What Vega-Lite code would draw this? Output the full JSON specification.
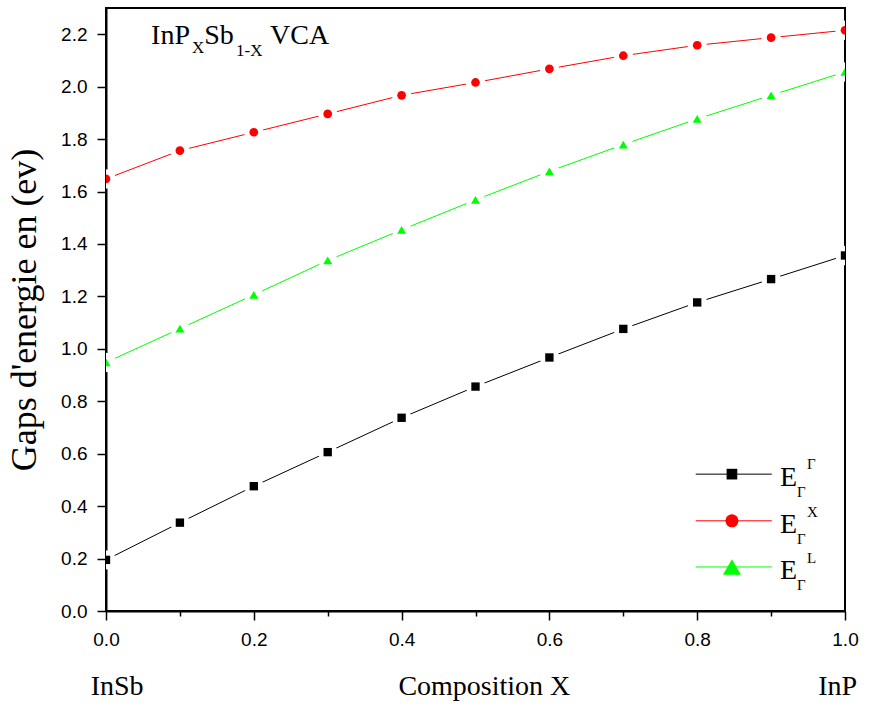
{
  "$schema": "https://vega.github.io/schema/vega-lite/v6.json",
  "width": 739,
  "height": 603,
  "autosize": {"type": "none"},
  "padding": {"left": 106, "top": 8, "right": 24, "bottom": 95},
  "background": "white",
  "config": {
    "view": {"stroke": "black", "strokeWidth": 2},
    "axis": {
      "grid": false,
      "domainColor": "black",
      "domainWidth": 2,
      "tickColor": "black",
      "tickWidth": 1.5,
      "labelColor": "black",
      "labelFont": "Liberation Sans",
      "labelFontSize": 19,
      "labelOverlap": false,
      "labelFlush": false,
      "titleColor": "black",
      "titleFont": "Liberation Serif",
      "titleFontWeight": "normal",
      "zindex": 1
    }
  },
  "datasets": {
    "gaps": [
      {"x": 0.0, "s": "Γ", "y": 0.195}, {"x": 0.1, "s": "Γ", "y": 0.337}, {"x": 0.2, "s": "Γ", "y": 0.476},
      {"x": 0.3, "s": "Γ", "y": 0.606}, {"x": 0.4, "s": "Γ", "y": 0.737}, {"x": 0.5, "s": "Γ", "y": 0.856},
      {"x": 0.6, "s": "Γ", "y": 0.967}, {"x": 0.7, "s": "Γ", "y": 1.076}, {"x": 0.8, "s": "Γ", "y": 1.177},
      {"x": 0.9, "s": "Γ", "y": 1.266}, {"x": 1.0, "s": "Γ", "y": 1.356},
      {"x": 0.0, "s": "X", "y": 1.648}, {"x": 0.1, "s": "X", "y": 1.756}, {"x": 0.2, "s": "X", "y": 1.826},
      {"x": 0.3, "s": "X", "y": 1.896}, {"x": 0.4, "s": "X", "y": 1.967}, {"x": 0.5, "s": "X", "y": 2.016},
      {"x": 0.6, "s": "X", "y": 2.068}, {"x": 0.7, "s": "X", "y": 2.118}, {"x": 0.8, "s": "X", "y": 2.158},
      {"x": 0.9, "s": "X", "y": 2.187}, {"x": 1.0, "s": "X", "y": 2.215},
      {"x": 0.0, "s": "L", "y": 0.948}, {"x": 0.1, "s": "L", "y": 1.077}, {"x": 0.2, "s": "L", "y": 1.206},
      {"x": 0.3, "s": "L", "y": 1.337}, {"x": 0.4, "s": "L", "y": 1.454}, {"x": 0.5, "s": "L", "y": 1.568},
      {"x": 0.6, "s": "L", "y": 1.677}, {"x": 0.7, "s": "L", "y": 1.779}, {"x": 0.8, "s": "L", "y": 1.877},
      {"x": 0.9, "s": "L", "y": 1.967}, {"x": 1.0, "s": "L", "y": 2.056}
    ],
    "one": [{"k": 1}]
  },
  "layer": [
    {
      "data": {"name": "gaps"},
      "transform": [{"filter": "datum.s == 'Γ'"}],
      "mark": {"type": "line", "strokeWidth": 1, "color": "#000000"},
      "encoding": {
        "x": {
          "field": "x", "type": "quantitative",
          "scale": {"domain": [0, 1], "nice": false, "zero": false},
          "axis": {
            "title": null,
            "values": [0, 0.1, 0.2, 0.3, 0.4, 0.5, 0.6, 0.7, 0.8, 0.9, 1.0],
            "labelExpr": "round(datum.value*10) % 2 == 0 ? format(datum.value, '.1f') : ''",
            "tickSize": {"condition": {"test": "round(datum.value*10) % 2 == 0", "value": 9}, "value": 5},
            "labelPadding": 10
          }
        },
        "y": {
          "field": "y", "type": "quantitative",
          "scale": {"domain": [0, 2.3], "nice": false, "zero": false},
          "axis": {
            "title": "Gaps d'energie en (ev)",
            "titleFontSize": 36,
            "titlePadding": 17,
            "values": [0, 0.1, 0.2, 0.3, 0.4, 0.5, 0.6, 0.7, 0.8, 0.9, 1.0, 1.1, 1.2, 1.3, 1.4, 1.5, 1.6, 1.7, 1.8, 1.9, 2.0, 2.1, 2.2],
            "labelExpr": "round(datum.value*10) % 2 == 0 ? format(datum.value, '.1f') : ''",
            "tickSize": {"condition": {"test": "round(datum.value*10) % 2 == 0", "value": 9}, "value": 5},
            "labelPadding": 10
          }
        }
      }
    },
    {
      "data": {"name": "gaps"},
      "transform": [{"filter": "datum.s == 'X'"}],
      "mark": {"type": "line", "strokeWidth": 1, "color": "#ff0000"},
      "encoding": {"x": {"field": "x", "type": "quantitative"}, "y": {"field": "y", "type": "quantitative"}}
    },
    {
      "data": {"name": "gaps"},
      "transform": [{"filter": "datum.s == 'L'"}],
      "mark": {"type": "line", "strokeWidth": 1, "color": "#00ff00"},
      "encoding": {"x": {"field": "x", "type": "quantitative"}, "y": {"field": "y", "type": "quantitative"}}
    },
    {
      "data": {"name": "gaps"},
      "mark": {"type": "point", "shape": "circle", "filled": true, "opacity": 1, "color": "#ffffff", "size": 380, "clip": true},
      "encoding": {
        "x": {"field": "x", "type": "quantitative"},
        "y": {"field": "y", "type": "quantitative"}
      }
    },
    {
      "data": {"name": "gaps"},
      "mark": {"type": "point", "filled": true, "opacity": 1, "clip": true},
      "encoding": {
        "x": {"field": "x", "type": "quantitative"},
        "y": {"field": "y", "type": "quantitative"},
        "color": {"field": "s", "type": "nominal", "scale": {"domain": ["Γ", "X", "L"], "range": ["#000000", "#ff0000", "#00ff00"]}, "legend": null},
        "shape": {"field": "s", "type": "nominal", "scale": {"domain": ["Γ", "X", "L"], "range": ["square", "circle", "triangle-up"]}, "legend": null},
        "size": {"field": "s", "type": "nominal", "scale": {"domain": ["Γ", "X", "L"], "range": [70, 81, 230]}, "legend": null}
      }
    },
    {"data": {"name": "one"}, "mark": {"type": "text", "text": "InP", "font": "Liberation Serif", "fontSize": 28, "color": "black", "align": "left", "baseline": "alphabetic"}, "encoding": {"x": {"datum": 0.061}, "y": {"datum": 2.164}}},
    {"data": {"name": "one"}, "mark": {"type": "text", "text": "X", "font": "Liberation Serif", "fontSize": 17, "color": "black", "align": "left", "baseline": "alphabetic", "dy": 9}, "encoding": {"x": {"datum": 0.1165}, "y": {"datum": 2.164}}},
    {"data": {"name": "one"}, "mark": {"type": "text", "text": "Sb", "font": "Liberation Serif", "fontSize": 28, "color": "black", "align": "left", "baseline": "alphabetic"}, "encoding": {"x": {"datum": 0.133}, "y": {"datum": 2.164}}},
    {"data": {"name": "one"}, "mark": {"type": "text", "text": "1-X", "font": "Liberation Serif", "fontSize": 17, "color": "black", "align": "left", "baseline": "alphabetic", "dy": 12}, "encoding": {"x": {"datum": 0.176}, "y": {"datum": 2.164}}},
    {"data": {"name": "one"}, "mark": {"type": "text", "text": "VCA", "font": "Liberation Serif", "fontSize": 28, "color": "black", "align": "left", "baseline": "alphabetic"}, "encoding": {"x": {"datum": 0.222}, "y": {"datum": 2.164}}},
    {"data": {"name": "one"}, "mark": {"type": "text", "text": "InSb", "font": "Liberation Serif", "fontSize": 28, "color": "black", "align": "center", "baseline": "alphabetic"}, "encoding": {"x": {"datum": 0.015}, "y": {"datum": -0.32}}},
    {"data": {"name": "one"}, "mark": {"type": "text", "text": "Composition X", "font": "Liberation Serif", "fontSize": 28, "color": "black", "align": "center", "baseline": "alphabetic"}, "encoding": {"x": {"datum": 0.512}, "y": {"datum": -0.32}}},
    {"data": {"name": "one"}, "mark": {"type": "text", "text": "InP", "font": "Liberation Serif", "fontSize": 28, "color": "black", "align": "center", "baseline": "alphabetic"}, "encoding": {"x": {"datum": 0.99}, "y": {"datum": -0.32}}},

    {"data": {"name": "one"}, "mark": {"type": "rule", "color": "#000000", "strokeWidth": 1}, "encoding": {"x": {"datum": 0.798}, "x2": {"datum": 0.901}, "y": {"datum": 0.522}}},
    {"data": {"name": "one"}, "mark": {"type": "point", "filled": true, "opacity": 1, "shape": "square", "size": 114, "color": "#000000"}, "encoding": {"x": {"datum": 0.847}, "y": {"datum": 0.522}}},
    {"data": {"name": "one"}, "mark": {"type": "text", "text": "E", "font": "Liberation Serif", "fontSize": 28, "color": "black", "align": "left", "baseline": "alphabetic", "dy": 12}, "encoding": {"x": {"datum": 0.912}, "y": {"datum": 0.522}}},
    {"data": {"name": "one"}, "mark": {"type": "text", "text": "Γ", "font": "Liberation Serif", "fontSize": 15, "color": "black", "align": "left", "baseline": "alphabetic", "dy": 23, "dx": 17}, "encoding": {"x": {"datum": 0.912}, "y": {"datum": 0.522}}},
    {"data": {"name": "one"}, "mark": {"type": "text", "text": "Γ", "font": "Liberation Serif", "fontSize": 15, "color": "black", "align": "left", "baseline": "alphabetic", "dy": -5, "dx": 27}, "encoding": {"x": {"datum": 0.912}, "y": {"datum": 0.522}}},

    {"data": {"name": "one"}, "mark": {"type": "rule", "color": "#ff0000", "strokeWidth": 1}, "encoding": {"x": {"datum": 0.798}, "x2": {"datum": 0.901}, "y": {"datum": 0.344}}},
    {"data": {"name": "one"}, "mark": {"type": "point", "filled": true, "opacity": 1, "shape": "circle", "size": 169, "color": "#ff0000"}, "encoding": {"x": {"datum": 0.847}, "y": {"datum": 0.344}}},
    {"data": {"name": "one"}, "mark": {"type": "text", "text": "E", "font": "Liberation Serif", "fontSize": 28, "color": "black", "align": "left", "baseline": "alphabetic", "dy": 12}, "encoding": {"x": {"datum": 0.912}, "y": {"datum": 0.344}}},
    {"data": {"name": "one"}, "mark": {"type": "text", "text": "Γ", "font": "Liberation Serif", "fontSize": 15, "color": "black", "align": "left", "baseline": "alphabetic", "dy": 23, "dx": 17}, "encoding": {"x": {"datum": 0.912}, "y": {"datum": 0.344}}},
    {"data": {"name": "one"}, "mark": {"type": "text", "text": "X", "font": "Liberation Serif", "fontSize": 15, "color": "black", "align": "left", "baseline": "alphabetic", "dy": -4, "dx": 27}, "encoding": {"x": {"datum": 0.912}, "y": {"datum": 0.344}}},

    {"data": {"name": "one"}, "mark": {"type": "rule", "color": "#00ff00", "strokeWidth": 1}, "encoding": {"x": {"datum": 0.798}, "x2": {"datum": 0.901}, "y": {"datum": 0.168}}},
    {"data": {"name": "one"}, "mark": {"type": "point", "filled": true, "opacity": 1, "shape": "triangle-up", "size": 324, "color": "#00ff00"}, "encoding": {"x": {"datum": 0.847}, "y": {"datum": 0.168}}},
    {"data": {"name": "one"}, "mark": {"type": "text", "text": "E", "font": "Liberation Serif", "fontSize": 28, "color": "black", "align": "left", "baseline": "alphabetic", "dy": 12}, "encoding": {"x": {"datum": 0.912}, "y": {"datum": 0.168}}},
    {"data": {"name": "one"}, "mark": {"type": "text", "text": "Γ", "font": "Liberation Serif", "fontSize": 15, "color": "black", "align": "left", "baseline": "alphabetic", "dy": 23, "dx": 17}, "encoding": {"x": {"datum": 0.912}, "y": {"datum": 0.168}}},
    {"data": {"name": "one"}, "mark": {"type": "text", "text": "L", "font": "Liberation Serif", "fontSize": 15, "color": "black", "align": "left", "baseline": "alphabetic", "dy": -4, "dx": 27}, "encoding": {"x": {"datum": 0.912}, "y": {"datum": 0.168}}}
  ]
}
